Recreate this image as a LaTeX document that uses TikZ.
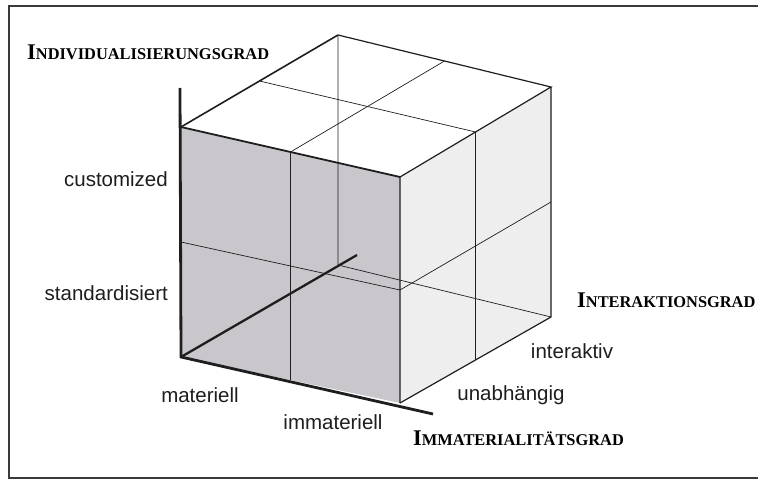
\documentclass[tikz,border=0pt]{standalone}
\usepackage{fontspec}
\setmainfont{Liberation Serif}
\setsansfont{Liberation Sans}
\usepackage{xcolor}
\usetikzlibrary{calc}
\definecolor{cubeink}{HTML}{1E1E1E}
\definecolor{frontgrey}{HTML}{C9C6CC}
\definecolor{sidegrey}{HTML}{EEEEEE}
\definecolor{framegrey}{HTML}{3A3A3A}
\newcommand{\fakesc}[2]{{\fontsize{22.4}{24}\selectfont #1}{\fontsize{16.4}{18}\selectfont #2}}

\begin{document}
\begin{tikzpicture}[
    x=1pt, y=-1pt,
    edge/.style={draw=cubeink, line width=1.2pt},
    thinline/.style={draw=cubeink, line width=0.7pt},
    axis/.style={draw=cubeink, line width=2.8pt, line join=miter},
    level/.style={font=\sffamily\fontsize{20.5}{22}\selectfont, text=cubeink, inner sep=0pt},
    dimlbl/.style={font=\bfseries, text=black, inner sep=0pt},
  ]

  \useasboundingbox (0,0) rectangle (758,481);

  % ---- the frame, open at the right
  \draw[framegrey, line width=1.6pt] (758,6) -- (9,6) -- (9,478) -- (758,478);

  % ---- corners of the cube
  \coordinate (ftl) at (181,127);
  \coordinate (ftr) at (400,177);
  \coordinate (fbl) at (181,357);
  \coordinate (fbr) at (400,403);
  \coordinate (btl) at (338,35);
  \coordinate (btr) at (551,87);
  \coordinate (bbr) at (551,317);
  \coordinate (bbl) at (338,265);

  % ---- faces
  \fill[frontgrey] (ftl) -- (ftr) -- (fbr) -- (fbl) -- cycle;
  \fill[sidegrey] (ftr) -- (btr) -- (bbr) -- (fbr) -- cycle;

  % ---- halving lines on the three visible faces
  \draw[thinline] ($(ftl)!0.5!(ftr)$) -- ($(fbl)!0.5!(fbr)$);
  \draw[thinline] ($(ftl)!0.5!(fbl)$) -- ($(ftr)!0.5!(fbr)$);
  \draw[thinline] ($(ftl)!0.5!(ftr)$) -- ($(btl)!0.5!(btr)$);
  \draw[thinline] ($(ftl)!0.5!(btl)$) -- ($(ftr)!0.5!(btr)$);
  \draw[thinline] ($(ftr)!0.5!(fbr)$) -- ($(btr)!0.5!(bbr)$);
  \draw[thinline] ($(ftr)!0.5!(btr)$) -- ($(fbr)!0.5!(bbr)$);

  % ---- edges seen through the cube
  \draw[thinline] (btl) -- (bbl) -- (bbr);

  % ---- outer edges
  \draw[edge, line width=1.8pt] (ftl) -- (ftr);
  \draw[edge, line width=1.6pt] (ftl) -- (btl);
  \draw[edge] (btl) -- (btr) -- (ftr) -- (fbr);
  \draw[edge] (btr) -- (bbr) -- (fbr);

  % ---- the three axes
  \coordinate (vtip) at (180,88);
  \coordinate (itip) at (433,414);
  \coordinate (dtip) at (357,255);
  \draw[axis] (vtip) -- (fbl) -- (itip);
  \draw[axis, line width=2.3pt] (fbl) -- (dtip);

  % ---- axis names
  \node[dimlbl, anchor=base west] (indiv) at (27,60) {\fakesc{I}{NDIVIDUALISIERUNGSGRAD}};
  \node[dimlbl, anchor=base west] (interg) at (577,308) {\fakesc{I}{NTERAKTIONSGRAD}};
  \node[dimlbl, anchor=base west] (immatg) at (413,445) {\fakesc{I}{MMATERIALITÄTSGRAD}};

  % ---- values along the axes
  \node[level, anchor=base east] (custom) at (168,187) {customized};
  \node[level, anchor=base east] (stand) at (168,300) {standardisiert};
  \node[level, anchor=base] (mat) at (200,402) {materiell};
  \node[level, anchor=base] (immat) at (333,429) {immateriell};
  \node[level, anchor=base] (unab) at (511,400) {unabhängig};
  \node[level, anchor=base] (inter) at (572,358) {interaktiv};

\end{tikzpicture}
\end{document}
